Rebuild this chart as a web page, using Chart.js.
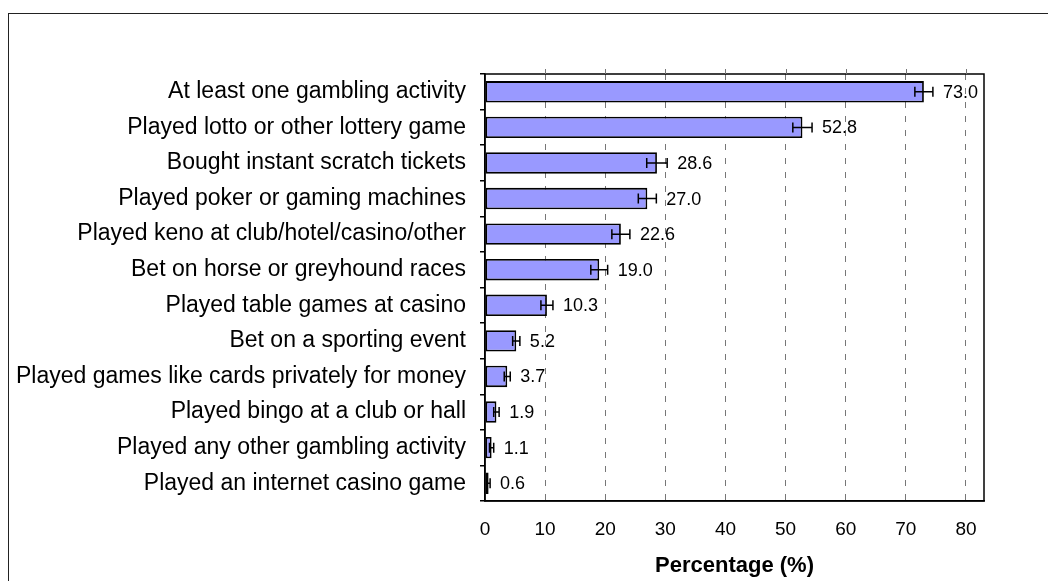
<!DOCTYPE html>
<html>
<head>
<meta charset="utf-8">
<script src="https://cdn.jsdelivr.net/npm/chart.js@4.4.1/dist/chart.umd.min.js"></script>
<style>
  html, body { margin: 0; padding: 0; background: #fff; overflow: hidden; }
  #frame { position: absolute; left: 8px; top: 13px; width: 1200px; height: 700px; border: 1px solid #222; }
  #wrap { position: absolute; left: 0; top: 0; width: 1048px; height: 581px; }
</style>
</head>
<body>
<div id="frame"></div>
<div id="wrap"><canvas id="gamblingChart"></canvas></div>
<script>
const activities = [
  'At least one gambling activity',
  'Played lotto or other lottery game',
  'Bought instant scratch tickets',
  'Played poker or gaming machines',
  'Played keno at club/hotel/casino/other',
  'Bet on horse or greyhound races',
  'Played table games at casino',
  'Bet on a sporting event',
  'Played games like cards privately for money',
  'Played bingo at a club or hall',
  'Played any other gambling activity',
  'Played an internet casino game'
];
const percentages = [73.0, 52.8, 28.6, 27.0, 22.6, 19.0, 10.3, 5.2, 3.7, 1.9, 1.1, 0.6];
// half-width of the confidence interval for each estimate
const errorHalf = [1.5, 1.6, 1.7, 1.5, 1.5, 1.4, 1.0, 0.6, 0.5, 0.45, 0.35, 0.25];
const xTicks = [0, 10, 20, 30, 40, 50, 60, 70, 80];

const FONT = "'Liberation Sans', Arial, sans-serif";

// error bars, value labels, plot frame and the short grid stubs above it
const extras = {
  id: 'extras',
  afterDatasetsDraw(chart) {
    const ctx = chart.ctx;
    const x = chart.scales.x;
    const area = chart.chartArea;
    const bars = chart.getDatasetMeta(0).data;

    ctx.save();
    ctx.strokeStyle = '#000';
    ctx.lineWidth = 1.5;
    bars.forEach((bar, i) => {
      const lo = x.getPixelForValue(percentages[i] - errorHalf[i]);
      const hi = x.getPixelForValue(percentages[i] + errorHalf[i]);
      const y = bar.y;
      ctx.beginPath();
      ctx.moveTo(lo, y); ctx.lineTo(hi, y);
      ctx.moveTo(lo, y - 5); ctx.lineTo(lo, y + 5);
      ctx.moveTo(hi, y - 5); ctx.lineTo(hi, y + 5);
      ctx.stroke();

      ctx.fillStyle = '#000';
      ctx.font = '18px ' + FONT;
      ctx.textAlign = 'left';
      ctx.textBaseline = 'middle';
      ctx.fillText(percentages[i].toFixed(1), hi + 10, y + 1);
    });

    // frame around the plot
    ctx.lineWidth = 1.5;
    ctx.strokeRect(area.left, area.top, area.right - area.left, area.bottom - area.top);

    // grid stubs poking above the frame
    ctx.strokeStyle = '#777';
    ctx.lineWidth = 1;
    xTicks.slice(1).forEach(v => {
      const px = Math.round(x.getPixelForValue(v)) + 0.5;
      ctx.beginPath();
      ctx.moveTo(px, area.top - 5);
      ctx.lineTo(px, area.top);
      ctx.stroke();
    });
    ctx.restore();
  }
};

new Chart(document.getElementById('gamblingChart'), {
  type: 'bar',
  data: {
    labels: activities,
    datasets: [{
      data: percentages,
      backgroundColor: '#9999ff',
      borderColor: '#000',
      borderWidth: 1.8,
      borderSkipped: false,
      barPercentage: 0.6,
      categoryPercentage: 1.0
    }]
  },
  options: {
    indexAxis: 'y',
    responsive: true,
    maintainAspectRatio: false,
    animation: false,
    layout: { padding: { top: 74, right: 64, left: 0, bottom: 0 } },
    plugins: {
      legend: { display: false },
      tooltip: { enabled: false }
    },
    scales: {
      x: {
        min: 0,
        max: 83,
        afterFit(scale) { scale.height = 80; },
        afterBuildTicks(scale) { scale.ticks = xTicks.map(v => ({ value: v })); },
        grid: {
          drawTicks: false,
          color: ctx => ctx.tick && ctx.tick.value === 0 ? 'rgba(0,0,0,0)' : '#777',
          lineWidth: 1
        },
        border: { display: true, color: '#000', width: 1.5, dash: [6, 8] },
        ticks: {
          padding: 17,
          color: '#000',
          font: { family: FONT, size: 19 }
        },
        title: {
          display: true,
          text: 'Percentage (%)',
          color: '#000',
          font: { family: FONT, size: 22, weight: 'bold' },
          padding: { top: 0, bottom: 2 }
        }
      },
      y: {
        afterFit(scale) { scale.width = 485; },
        grid: {
          offset: true,
          drawOnChartArea: false,
          drawTicks: true,
          tickLength: 5,
          color: '#000',
          lineWidth: 1.5
        },
        border: { display: true, color: '#000', width: 1.5 },
        ticks: {
          padding: 14,
          color: '#000',
          font: { family: FONT, size: 23 }
        }
      }
    }
  },
  plugins: [extras]
});
</script>
</body>
</html>
